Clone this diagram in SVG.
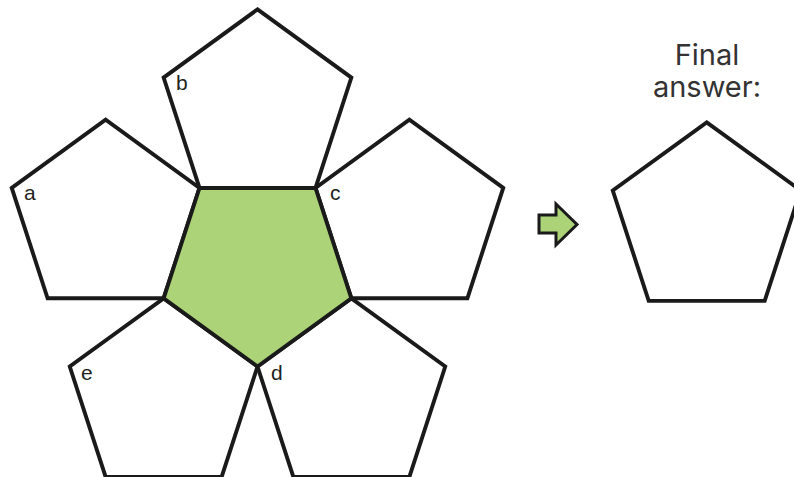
<svg xmlns="http://www.w3.org/2000/svg" width="794" height="477" viewBox="0 0 794 477">
<style>
.p{fill:#ffffff;stroke:#1a1a1a;stroke-width:3.9;stroke-linejoin:miter}
.g{fill:#acd378;stroke:#1a1a1a;stroke-width:3.9;stroke-linejoin:miter}
.lbl{font-family:"Liberation Sans",Arial,sans-serif;font-size:21px;fill:#231f20}
.ttl{font-family:Inter,"Liberation Sans",sans-serif;font-size:29px;fill:#333333;text-anchor:middle}
</style>
<rect width="794" height="477" fill="#ffffff"/>
<g id="pent-b"><polygon class="p" points="257.5,9.4 351.37,77.6 315.51,187.95 199.49,187.95 163.63,77.6"/><text class="lbl" x="176" y="90">b</text></g>
<g id="pent-a"><polygon class="p" points="11.75,187.95 105.62,119.75 199.49,187.95 163.63,298.3 47.61,298.3"/><text class="lbl" x="24" y="200">a</text></g>
<g id="pent-c"><polygon class="p" points="503.25,187.95 409.38,119.75 315.51,187.95 351.37,298.3 467.39,298.3"/><text class="lbl" x="330" y="200">c</text></g>
<g id="pent-e"><polygon class="p" points="105.62,476.85 69.76,366.5 163.63,298.3 257.5,366.5 221.64,476.85"/><text class="lbl" x="81" y="380">e</text></g>
<g id="pent-d"><polygon class="p" points="409.38,476.85 293.36,476.85 257.5,366.5 351.37,298.3 445.24,366.5"/><text class="lbl" x="271" y="380">d</text></g>
<g id="pent-center"><polygon class="g" points="257.5,366.5 163.63,298.3 199.49,187.95 315.51,187.95 351.37,298.3"/></g>
<g id="connectors"><polygon id="arrow" points="539,215 556,215 556,204 577,224.5 556,245 556,233 539,233" fill="#acd378" stroke="#1a1a1a" stroke-width="3" stroke-linejoin="miter"/></g>
<g id="answer">
<text class="ttl" x="707" y="65">Final</text>
<text class="ttl" x="707" y="97">answer:</text>
<polygon class="p" points="706.7,122.3 800.6,190.5 764.7,300.9 648.7,300.9 612.8,190.5"/>
</g>
</svg>
